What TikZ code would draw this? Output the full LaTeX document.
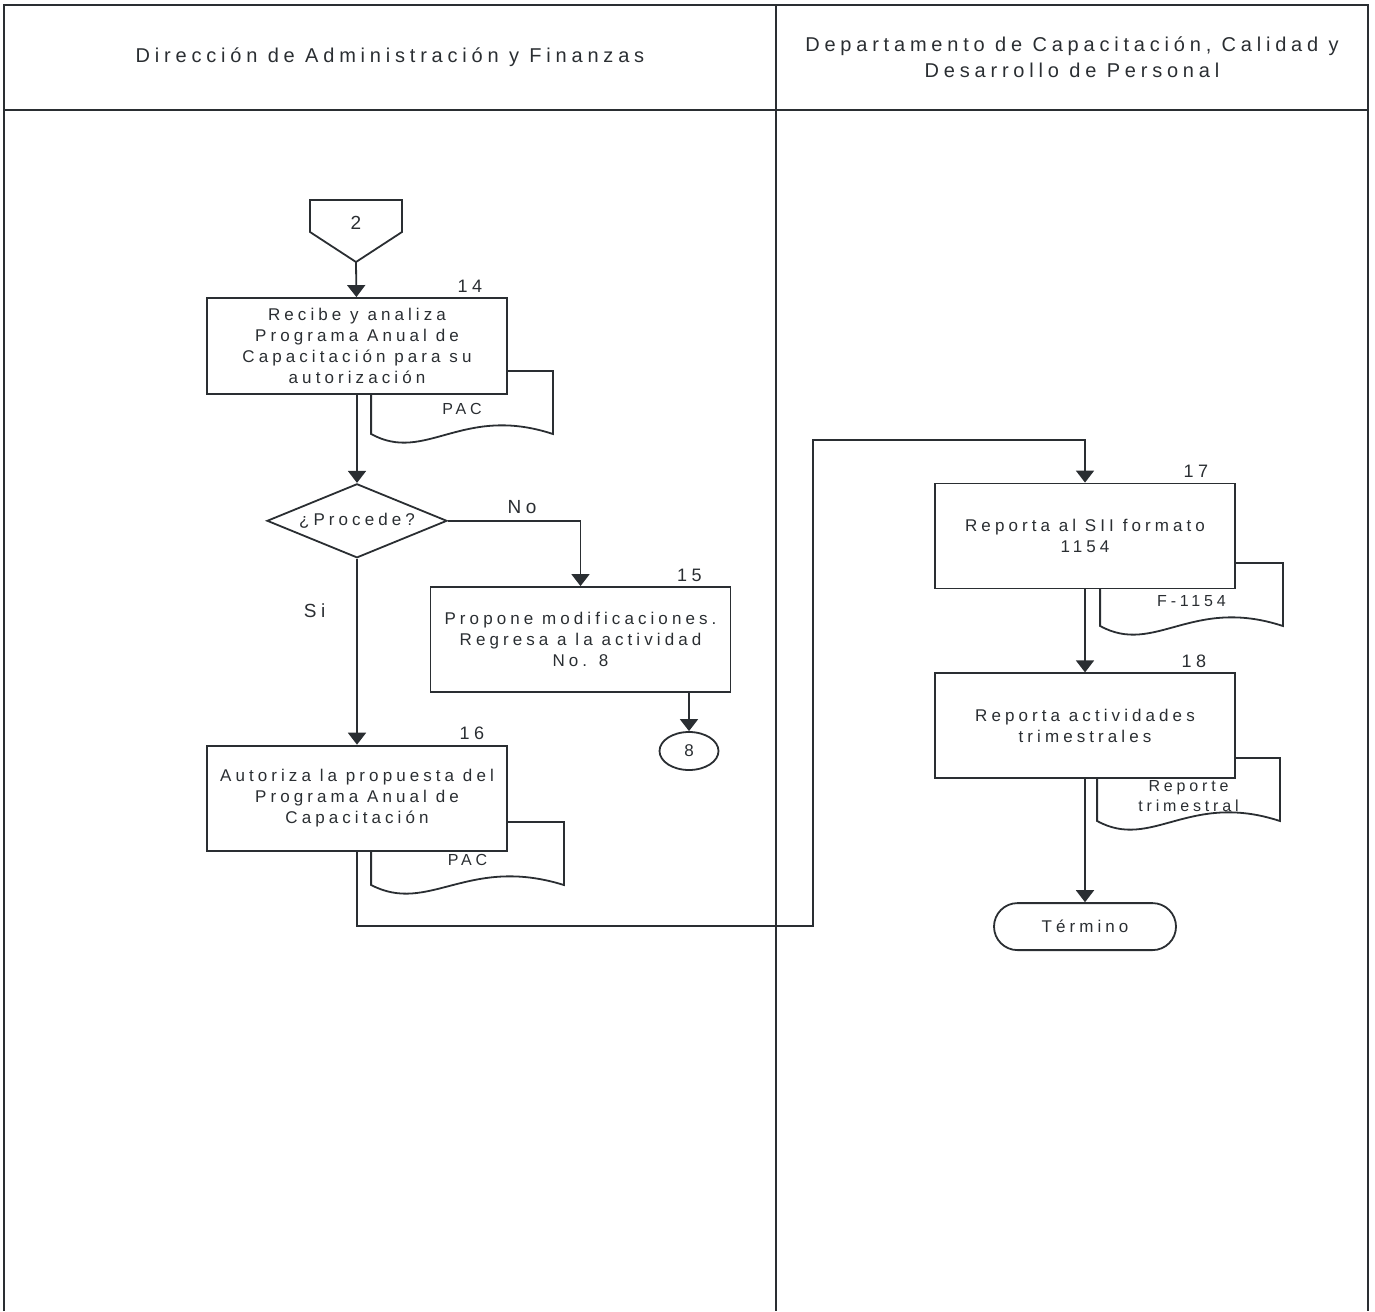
\documentclass[tikz,border=0pt]{standalone}
\usepackage{fontspec}
\setmainfont{Liberation Sans}[LetterSpace=24]
\usepackage{xcolor}
\definecolor{ink}{HTML}{2A2E32}
\usepackage{tikz}
\usetikzlibrary{arrows.meta, shapes.geometric, positioning, calc}

\begin{document}
\begin{tikzpicture}[x=0.5pt, y=-0.5pt, >={Triangle[width=9pt,length=6pt]},
  line width=0.9pt, color=ink,
  lanetitle/.style={align=center, font=\fontsize{10}{13}\selectfont},
  actbox/.style={draw, fill=white, minimum width=150pt, minimum height=52.5pt,
    inner sep=0pt, align=center, font=\fontsize{8.5}{10.5}\selectfont},
  docnode/.style={minimum width=#1, minimum height=37.5pt, anchor=north,
    inner sep=0pt, align=center, font=\fontsize{8}{10}\selectfont},
  decision/.style={diamond, draw, fill=white, aspect=2.43, minimum width=90pt,
    minimum height=37pt, inner sep=0pt, font=\fontsize{8.5}{10}\selectfont},
  terminal/.style={rectangle, draw, fill=white, rounded corners=11.75pt,
    minimum width=91pt, minimum height=23.5pt, font=\fontsize{8.5}{10}\selectfont},
  pageref/.style={ellipse, draw, fill=white, minimum width=29.5pt,
    minimum height=19pt, inner sep=0pt, font=\fontsize{8.5}{10}\selectfont},
  numlbl/.style={anchor=south, inner sep=2pt, font=\fontsize{9}{10}\selectfont},
  lbl/.style={font=\fontsize{9.5}{11}\selectfont}]

  \useasboundingbox (0,0) rectangle (1375,1311);

  % lanes
  \draw (4,1311) -- (4,5) -- (1368,5) -- (1368,1311);
  \draw (4,110) -- (1368,110);
  \draw (776,5) -- (776,1311);
  \node[lanetitle] (laneA) at (390,57) {Dirección de Administración y Finanzas};
  \node[lanetitle] (laneB) at (1072,57)
    {Departamento de Capacitación, Calidad y\\ Desarrollo de Personal};

  % documents, behind the activities
  \node[docnode=90pt] (pac14) at (462,371) {PAC};
  \node[docnode=95.5pt] (pac16) at (467.5,822) {PAC};
  \node[docnode=90.5pt] (f1154) at (1191.5,563) {F-1154};
  \node[docnode=90.5pt] (rep18) at (1188.5,758) {Reporte\\ trimestral};
  \foreach \d in {pac14, pac16, f1154, rep18}
    \draw (\d.north west) -- (\d.north east) -- ([yshift=-31.5pt]\d.north east)
      .. controls ($(\d.north west)!0.5!(\d.north east)+(0,33)$)
      and ($(\d.north west)!0.3!(\d.north east)+(0,93)$)
      .. ([yshift=-31.5pt]\d.north west) -- cycle;

  % off-page connector
  \node[font=\fontsize{9.5}{11}\selectfont] (off2) at (356,223) {2};
  \draw (off2.center) ++(-46,-23) -- ++(92,0) -- ++(0,32) -- ++(-46,30)
    -- ++(-46,-30) -- cycle;
  \coordinate (tip2) at ($(off2)+(0,39)$);

  % activities
  \node[actbox, minimum height=48pt] (act14) at (357,346)
    {Recibe y analiza\\ Programa Anual de\\ Capacitación para su\\ autorización};
  \node[decision, below=44pt of act14] (dec) {¿Procede?};
  \node[actbox] (act15) at (580.5,639.5)
    {Propone modificaciones.\\ Regresa a la actividad\\ No. 8};
  \node[pageref] (conn8) at (689,751) {8};
  \node[actbox, below=93pt of dec] (act16)
    {Autoriza la propuesta del\\ Programa Anual de\\ Capacitación};
  \node[actbox] (act17) at (1085,536) {Reporta al SII formato\\ 1154};
  \node[actbox, below=41.5pt of act17] (act18) {Reporta actividades\\ trimestrales};
  \node[terminal, below=61.5pt of act18] (fin) {Término};

  \node[numlbl] (n14) at ([xshift=-19pt]act14.north east) {14};
  \node[numlbl] (n15) at ([xshift=-21pt]act15.north east) {15};
  \node[numlbl] (n16) at ([xshift=-18pt]act16.north east) {16};
  \node[numlbl] (n17) at ([xshift=-20pt]act17.north east) {17};
  \node[numlbl] (n18) at ([xshift=-21pt]act18.north east) {18};

  % flow
  \coordinate (c1) at (813,926);
  \coordinate (c2) at (813,440);
  \draw[->] (tip2) -- (act14);
  \draw[->] (act14) -- (dec);
  \draw[->] (dec.east) -| node[lbl, pos=0.28, above] (no) {No} (act15.north);
  \draw[->] (dec) -- node[lbl, pos=0.28, left=12pt] (si) {Si} (act16);
  \draw[->] (act15.south -| conn8) -- (conn8);
  \draw[->] (act16.south) |- (c1) -- (c2) -| (act17.north);
  \draw[->] (act17) -- (act18);
  \draw[->] (act18) -- (fin);

\end{tikzpicture}
\end{document}
